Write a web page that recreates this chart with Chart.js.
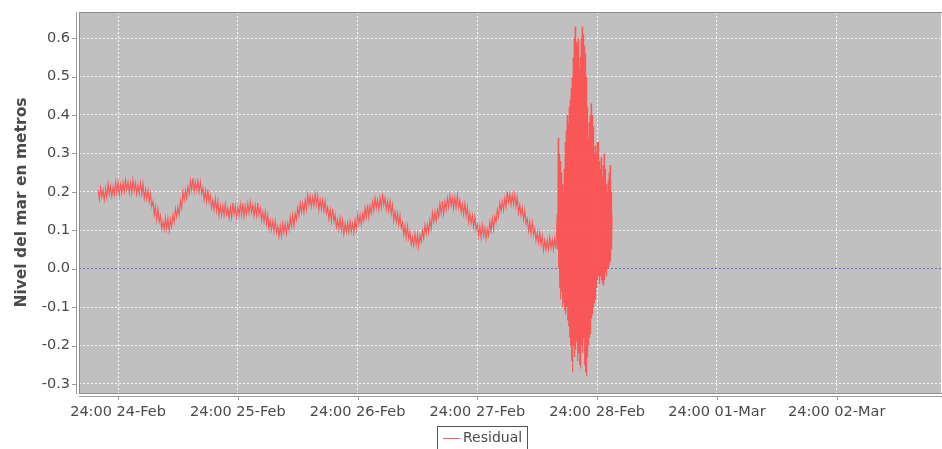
<!DOCTYPE html>
<html><head><meta charset="utf-8">
<script src="https://cdn.jsdelivr.net/npm/chart.js@4"></script>
<style>html,body{margin:0;padding:0;background:#fff;overflow:hidden}#wrap{width:942px;height:449px}</style>
</head><body><div id="wrap"><canvas id="c" width="942" height="449"></canvas></div>
<script>
// ---- data (hours counted from 24:00 24-Feb) ----
const seriesName = 'Residual';
const yAxisTitle = 'Nivel del mar en metros';
const dayTickHours = [0, 24, 48, 72, 96, 120, 144];
const dayTickLabels = ['24:00 24-Feb', '24:00 25-Feb', '24:00 26-Feb', '24:00 27-Feb', '24:00 28-Feb', '24:00 01-Mar', '24:00 02-Mar'];
const yTickValues = [-0.3, -0.2, -0.1, 0.0, 0.1, 0.2, 0.3, 0.4, 0.5, 0.6];

// calm period: sampled every 0.25 h from -4.0 h (one row = one hour)
const calmStartHour = -4.0;
const calmStepHours = 0.25;
const calmLevels = [
  .204,.180,.211,.185, .205,.179,.209,.184, .221,.193,.215,.188, .213,.192,.224,.197,
  .226,.191,.219,.197, .224,.200,.231,.205, .225,.197,.224,.196, .231,.202,.223,.194,
  .218,.195,.224,.194, .221,.182,.206,.181, .204,.173,.196,.162, .175,.140,.162,.127,
  .156,.122,.138,.104, .123,.101,.132,.103, .131,.098,.129,.109, .139,.120,.156,.135,
  .160,.140,.177,.157, .201,.178,.205,.183, .213,.195,.229,.204, .236,.200,.226,.203,
  .229,.200,.226,.195, .210,.179,.204,.174, .206,.173,.190,.158, .178,.153,.182,.150,
  .176,.138,.164,.139, .164,.139,.169,.141, .158,.131,.160,.133, .171,.142,.163,.134,
  .160,.138,.169,.140, .171,.136,.164,.142, .169,.144,.174,.146, .165,.137,.165,.138,
  .171,.139,.158,.126, .148,.122,.149,.117, .141,.102,.126,.101, .124,.096,.124,.093,
  .110,.083,.111,.084, .119,.093,.117,.091, .118,.100,.134,.109, .141,.111,.144,.127,
  .159,.138,.171,.147, .170,.146,.178,.154, .193,.166,.188,.161, .186,.164,.195,.166,
  .191,.153,.179,.154, .179,.150,.176,.145, .160,.129,.154,.124, .156,.123,.140,.108,
  .128,.103,.132,.100, .126,.090,.117,.095, .119,.094,.124,.097, .118,.094,.126,.102,
  .141,.116,.140,.115, .143,.125,.159,.134, .166,.133,.164,.144, .174,.151,.184,.158,
  .180,.154,.184,.158, .196,.165,.184,.154, .176,.150,.176,.143, .166,.126,.149,.122,
  .144,.114,.139,.106, .120,.088,.112,.080, .111,.078,.095,.063, .083,.060,.091,.062,
  .088,.056,.087,.069, .099,.079,.114,.091, .115,.093,.127,.105, .146,.122,.148,.124,
  .153,.135,.169,.144, .176,.143,.174,.154, .184,.160,.191,.164, .185,.157,.186,.159,
  .191,.159,.178,.146, .168,.142,.169,.137, .161,.121,.144,.117, .139,.109,.134,.101,
  .115,.085,.110,.080, .113,.085,.106,.077, .103,.086,.122,.098, .131,.102,.136,.121,
  .154,.135,.171,.150, .175,.152,.184,.161, .201,.173,.194,.166, .193,.167,.194,.162,
  .186,.145,.166,.138, .159,.128,.151,.117, .130,.098,.122,.090, .121,.088,.105,.073,
  .093,.067,.094,.062, .086,.048,.074,.049, .074,.050,.081,.054, .075,.049,.079,.052
];

// tsunami period: sampled every 0.1 h from 88.0 h
const surgeStartHour = 88.0;
const surgeStepHours = 0.1;
const surgeLevels = [
  0.14,0.05, 0.34,0.00, 0.30,-0.05, 0.28,-0.08, 0.25,-0.06,
  0.22,-0.10, 0.20,-0.09, 0.26,-0.11, 0.33,-0.12, 0.36,-0.10,
  0.40,-0.135, 0.38,-0.15, 0.42,-0.18, 0.44,-0.20, 0.47,-0.24,
  0.50,-0.27, 0.55,-0.20, 0.60,-0.23, 0.63,-0.21, 0.59,-0.19,
  0.58,-0.24, 0.60,-0.22, 0.52,-0.25, 0.55,-0.26, 0.60,-0.20,
  0.63,-0.22, 0.61,-0.18, 0.58,-0.25, 0.56,-0.27, 0.50,-0.28,
  0.42,-0.23, 0.34,-0.20, 0.38,-0.18, 0.40,-0.17, 0.43,-0.13,
  0.40,-0.12, 0.37,-0.10, 0.30,-0.09, 0.32,-0.08, 0.30,-0.05,
  0.33,-0.03, 0.33,-0.02, 0.28,-0.04, 0.26,-0.02, 0.29,-0.03,
  0.24,-0.04, 0.27,-0.045, 0.30,-0.03, 0.26,-0.01, 0.22,-0.02,
  0.20,0.00, 0.23,0.00, 0.25,0.01, 0.27,0.02, 0.20,0.05,
  0.14
];

// ---- build points ----
const points = [];
calmLevels.forEach((v, i) => points.push({x: calmStartHour + i * calmStepHours, y: v}));
surgeLevels.forEach((v, i) => points.push({x: surgeStartHour + i * surgeStepHours, y: v}));

const TEXT = '#4a4a4a';
const FONT = "'DejaVu Sans', sans-serif";
const LINE_COLOR = 'rgba(255,75,75,0.9)';

const framePlugin = {
  id: 'frame',
  beforeDraw(chart) {
    const {ctx, chartArea: a} = chart;
    ctx.save();
    ctx.fillStyle = '#c0c0c0';
    ctx.fillRect(a.left, a.top, a.right - a.left, a.bottom - a.top);
    ctx.restore();
  },
  afterDraw(chart) {
    const {ctx, chartArea: a, scales} = chart;
    ctx.save();
    ctx.lineWidth = 1;
    ctx.strokeStyle = '#8c8c8c';
    ctx.beginPath();
    ctx.moveTo(a.left + 0.5, a.bottom + 0.5);
    ctx.lineTo(a.left + 0.5, a.top + 0.5);
    ctx.lineTo(a.right + 2, a.top + 0.5);
    ctx.moveTo(a.left, a.bottom + 0.5);
    ctx.lineTo(a.right + 2, a.bottom + 0.5);
    ctx.stroke();
    ctx.strokeStyle = '#9a9a9a';
    ctx.beginPath();
    ctx.moveTo(a.left - 2.5, a.top);
    ctx.lineTo(a.left - 2.5, a.bottom + 1);
    ctx.moveTo(a.left, a.bottom + 3.5);
    ctx.lineTo(a.right + 2, a.bottom + 3.5);
    ctx.stroke();
    ctx.beginPath();
    scales.y.ticks.forEach(t => {
      const py = Math.round(scales.y.getPixelForValue(t.value)) + 0.5;
      ctx.moveTo(a.left - 7, py); ctx.lineTo(a.left - 2.5, py);
    });
    scales.x.ticks.forEach(t => {
      const px = Math.round(scales.x.getPixelForValue(t.value)) + 0.5;
      ctx.moveTo(px, a.bottom + 3.5); ctx.lineTo(px, a.bottom + 7);
    });
    ctx.stroke();
    // legend
    const lx = 437.5, ly = 426.5;
    ctx.fillStyle = '#ffffff';
    ctx.fillRect(lx, ly, 90, 30);
    ctx.strokeStyle = '#555555';
    ctx.strokeRect(lx, ly, 90, 30);
    ctx.strokeStyle = LINE_COLOR;
    ctx.beginPath();
    ctx.moveTo(443, 438.5); ctx.lineTo(460, 438.5);
    ctx.stroke();
    ctx.fillStyle = TEXT;
    ctx.font = "14px " + FONT;
    ctx.textBaseline = 'middle';
    ctx.textAlign = 'left';
    ctx.fillText(chart.data.datasets[0].label, 463, 438.5);
    ctx.restore();
  }
};

new Chart(document.getElementById('c'), {
  type: 'line',
  data: {
    datasets: [{
      label: seriesName,
      data: points,
      borderColor: LINE_COLOR,
      borderWidth: 1.1,
      pointRadius: 0,
      tension: 0,
      fill: false
    }]
  },
  options: {
    responsive: false,
    animation: false,
    devicePixelRatio: 1,
    layout: {padding: {top: 12, right: 1, left: 0, bottom: 0}},
    plugins: {legend: {display: false}, tooltip: {enabled: false}},
    scales: {
      x: {
        type: 'linear',
        min: -7.82,
        max: 164.9,
        afterBuildTicks: s => { s.ticks = dayTickHours.map(v => ({value: v})); },
        afterFit: s => { s.height = 56; s.paddingLeft = 0; s.paddingRight = 0; },
        ticks: {
          autoSkip: false, maxRotation: 0, padding: 11,
          color: TEXT, font: {family: FONT, size: 14.5},
          callback: v => dayTickLabels[dayTickHours.indexOf(v)]
        },
        grid: {color: 'rgba(255,255,255,0.85)', lineWidth: 1, drawTicks: false},
        border: {display: false, dash: [2, 2]}
      },
      y: {
        type: 'linear',
        min: -0.3235,
        max: 0.668,
        afterBuildTicks: s => { s.ticks = yTickValues.map(v => ({value: v})); },
        afterFit: s => { s.width = 79; s.paddingTop = 0; s.paddingBottom = 0; },
        ticks: {
          padding: 9, color: TEXT, font: {family: FONT, size: 14.5},
          callback: v => v.toFixed(1)
        },
        grid: {
          color: c => (c.tick && Math.abs(c.tick.value) < 1e-9) ? 'rgba(90,90,235,0.85)' : 'rgba(255,255,255,0.85)',
          lineWidth: 1, drawTicks: false
        },
        border: {display: false, dash: [2, 2]},
        title: {
          display: true, text: yAxisTitle, color: TEXT,
          font: {family: FONT, size: 15.5, weight: 'bold'},
          padding: {top: 13, bottom: 0}
        }
      }
    }
  },
  plugins: [framePlugin]
});
</script>
</body></html>
